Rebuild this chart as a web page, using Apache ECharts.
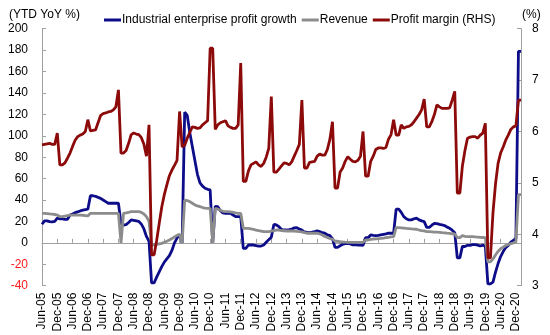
<!DOCTYPE html>
<html><head><meta charset="utf-8">
<script src="https://cdn.jsdelivr.net/npm/echarts@6/dist/echarts.min.js"></script>
<style>html,body{margin:0;padding:0;background:#fff}#c{width:550px;height:335px}</style>
</head><body><div id="c"></div>
<script>
// Monthly categories Jun-05 .. Feb-21
const monthAbbr = ['Jan','Feb','Mar','Apr','May','Jun','Jul','Aug','Sep','Oct','Nov','Dec'];
const categories = [];
for (let y = 2005, m = 5; y < 2021 || (y === 2021 && m <= 1); m++) {
  if (m === 12) { m = 0; y++; if (y === 2021 && m > 1) break; }
  categories.push(monthAbbr[m] + '-' + String(y % 100).padStart(2, '0'));
}

// Industrial enterprise profit growth, YTD YoY %
const profitGrowth = [
  17.4, 20.5, 20.5, 19.8, 19.5, 20, 23,                              // 2005 Jun-Dec
  22.5, 22.5, 22, 22, 26, 27, 28.2, 29, 29.8, 30.5, 31, 31.4,         // 2006
  44, 44, 43.5, 42.5, 41.6, 40, 38.5, 37, 37, 37, 37, 37,             // 2007
  18.3, 16.5, 17, 19, 21.4, 21, 20.5, 20, 17.5, 13, 6, 1.5,           // 2008
  -37.3, -37.3, -32, -27, -22.2, -18, -15, -12, -7, 0, 4.5, 7.8,      // 2009
  0, 122, 119, 103, 90, 77, 64, 56, 53, 51, 50, 49.4,                 // 2010
  0, 34, 33.8, 30, 28, 27.6, 27.6, 27.6, 26, 24.5, 24.5, 24.5,        // 2011
  -5.2, -5.2, -2, -2, -2, -2.5, -3, -3, -2, 0.5, 3, 5.3,              // 2012
  17.2, 16.7, 15.1, 12.5, 12, 12, 12.3, 12.8, 14, 14.2, 13, 12,       // 2013
  10, 9.9, 9.6, 10, 10.5, 11.1, 10.5, 9.5, 9, 7.5, 6.7, 4,            // 2014
  -4.2, -4.2, -2.7, -1.3, -0.8, -0.5, -1, -1.9, -1.7, -2, -2, -2.3,   // 2015
  4.8, 4.8, 7.4, 7, 6.7, 7, 7.5, 8, 8.4, 9, 9, 9,                     // 2016
  31.5, 31.5, 28.5, 24.5, 22.5, 21.4, 21.5, 22.5, 23, 21.5, 20.5, 19.8, // 2017
  14.5, 14.5, 16.5, 18.3, 18, 17.2, 16.7, 16.2, 14.7, 13.6, 11.8, 9.5,  // 2018
  -14, -14, -3.3, -3.4, -2.3, -2.4, -1.7, -1.7, -2.1, -2.9, -2.1, -3.3, // 2019
  -38.3, -38.3, -36.7, -27.4, -19.3, -12.8, -8.1, -4.4, -2.4, 0.7, 2.4, 4.1, // 2020
  178.9, 178.9                                                        // 2021 Jan-Feb
];

// Revenue growth, YTD YoY %
const revenueGrowth = [
  27.6, 27.5, 27.3, 27, 26.8, 26.5, 26,                               // 2005
  24.5, 24.5, 25, 25.5, 26, 26, 26, 26, 26, 25.8, 25.5, 25.1,         // 2006
  27.6, 27.6, 27.6, 27.6, 27.6, 27.6, 27.6, 27.6, 27.6, 27.6, 27.6, 27.6, // 2007
  0, 27.6, 28, 28.5, 29.1, 29.1, 29.1, 29.1, 28.5, 27, 24.5, 20,      // 2008
  -2, -2, -1.5, -1, -0.5, 0.5, 1.5, 2.7, 4, 5.5, 7, 8,                // 2009
  0, 40, 39.5, 38.5, 37, 35.5, 34.5, 33.8, 33, 32.5, 32.3, 32.3,      // 2010
  0, 32.3, 31.5, 30.5, 29.5, 29.1, 29.1, 29, 28.5, 28, 27.6, 27.6,    // 2011
  13.6, 13.6, 13.5, 13, 12.5, 12, 11.5, 11, 10.5, 10.5, 10.5, 11,     // 2012
  11.5, 12, 12, 11.5, 11.3, 11.1, 11.1, 11.1, 11, 10.8, 10.5, 10.3,   // 2013
  9.5, 9, 9, 9, 9, 9, 8.5, 7.4, 6, 5, 4, 3.6,                         // 2014
  1.5, 1.5, 1.1, 0.8, 0.6, 0.5, 0.5, 0.5, 0.5, 0.5, 0.5, 0.5,         // 2015
  2.7, 2.7, 3.2, 3.6, 3.8, 4, 4.2, 4.5, 4.9, 5.2, 5.5, 5.8,           // 2016
  14.2, 14.2, 14, 13.8, 13.5, 13.3, 13, 12.8, 12.7, 12, 11.5, 11.1,   // 2017
  10.5, 10.5, 10.3, 10.1, 10, 9.8, 9.5, 9.3, 9, 8.8, 8.5, 8.3,        // 2018
  4.9, 4.9, 6.7, 6, 5.8, 5.8, 5.8, 5.5, 5.3, 5.1, 5, 4.9,             // 2019
  -17.7, -17.7, -15, -11.3, -8, -5.5, -4, -2.5, -1.5, -0.7, 0, 0.8,   // 2020
  45, 45                                                              // 2021
];

// Profit margin, % (right-hand scale)
const profitMargin = [
  5.74, 5.75, 5.76, 5.77, 5.75, 5.75, 5.97,                           // 2005
  5.35, 5.35, 5.39, 5.48, 5.58, 5.71, 5.83, 5.90, 5.93, 5.95, 6.00, 6.23, // 2006
  6.01, 6.02, 6.03, 6.17, 6.31, 6.35, 6.36, 6.38, 6.39, 6.42, 6.48, 6.81, // 2007
  5.58, 5.58, 5.63, 5.77, 5.94, 5.97, 5.95, 5.94, 5.88, 5.75, 5.52, 6.13, // 2008
  3.60, 3.60, 3.88, 4.21, 4.53, 4.77, 4.96, 5.14, 5.25, 5.34, 5.44, 6.39, // 2009
  5.70, 5.73, 5.87, 5.98, 6.09, 6.08, 6.06, 6.07, 6.13, 6.17, 6.21, 7.62, // 2010
  7.62, 6.04, 6.13, 6.17, 6.19, 6.21, 6.11, 6.08, 6.06, 6.06, 6.13, 7.33, // 2011
  5.03, 5.03, 5.23, 5.35, 5.38, 5.41, 5.35, 5.32, 5.38, 5.50, 5.67, 6.68, // 2012
  5.21, 5.21, 5.27, 5.33, 5.39, 5.38, 5.35, 5.41, 5.52, 5.63, 5.75, 6.61, // 2013
  5.29, 5.29, 5.40, 5.41, 5.42, 5.52, 5.56, 5.54, 5.54, 5.65, 5.85, 6.19, // 2014
  4.90, 4.90, 5.21, 5.29, 5.42, 5.51, 5.46, 5.42, 5.41, 5.44, 5.52, 6.00, // 2015
  5.13, 5.13, 5.42, 5.52, 5.65, 5.68, 5.68, 5.67, 5.69, 5.85, 5.94, 6.23, // 2016
  5.93, 5.93, 6.13, 6.06, 6.09, 6.10, 6.13, 6.19, 6.26, 6.33, 6.42, 6.63, // 2017
  6.09, 6.09, 6.19, 6.33, 6.52, 6.48, 6.45, 6.45, 6.45, 6.46, 6.61, 6.78, // 2018
  4.80, 4.80, 5.33, 5.63, 5.87, 5.89, 5.90, 5.90, 5.87, 5.93, 5.97, 6.16, // 2019
  3.54, 3.54, 4.42, 4.98, 5.38, 5.58, 5.70, 5.83, 5.93, 6.04, 6.09, 6.11, // 2020
  6.61, 6.61                                                          // 2021
];

const seriesNames = ['Industrial enterprise profit growth', 'Revenue', 'Profit margin (RHS)'];
const leftTitle = '(YTD YoY %)';
const rightTitle = '(%)';

const FONT = '"Liberation Sans", Arial, sans-serif';
const C_BLUE = '#0d0d8a', C_GRAY = '#8c8c8c', C_RED = '#8c0a0a', C_AXIS = '#a0a0a0';
const halfYear = (i, v) => v.startsWith('Jun') || v.startsWith('Dec');

const chart = echarts.init(document.getElementById('c'), null, { renderer: 'canvas' });
chart.setOption({
  animation: false,
  backgroundColor: '#fff',
  textStyle: { fontFamily: FONT },
  grid: { left: 42, right: 29, top: 28.7, bottom: 49.3, containLabel: false },
  legend: {
    data: seriesNames, top: 9, left: 99, icon: 'rect', itemWidth: 17, itemHeight: 3,
    itemGap: 5, textStyle: { fontSize: 12, color: '#000', fontFamily: FONT, padding: [0, 0, 0, -4] }
  },
  graphic: [
    { type: 'text', left: 9, top: 9, style: { text: leftTitle, font: '12px ' + FONT, fill: '#000' } },
    { type: 'text', left: 522, top: 9, style: { text: rightTitle, font: '12px ' + FONT, fill: '#000' } }
  ],
  xAxis: [
    {
      type: 'category', data: categories, boundaryGap: false, position: 'bottom',
      axisLine: { show: false, onZero: false }, axisTick: { show: false }, splitLine: { show: false },
      axisLabel: { interval: halfYear, rotate: 90, margin: 7, fontSize: 12, color: '#000', fontFamily: FONT }
    },
    {
      type: 'category', data: categories, boundaryGap: false, position: 'top',
      axisLine: { show: true, onZero: true, onZeroAxisIndex: 0, lineStyle: { color: C_AXIS, width: 1 } },
      axisTick: { show: true, interval: halfYear, inside: false, length: 4, lineStyle: { color: C_AXIS } },
      axisLabel: { show: false }, splitLine: { show: false }
    }
  ],
  yAxis: [
    {
      type: 'value', min: -40, max: 200, interval: 20, position: 'left',
      axisLine: { show: true, lineStyle: { color: C_AXIS } },
      axisTick: { show: true, inside: true, length: 4, lineStyle: { color: C_AXIS } },
      splitLine: { show: false },
      axisLabel: { margin: 14, fontSize: 12, fontFamily: FONT, color: v => (v < 0 ? '#ff1a1a' : '#000') }
    },
    {
      type: 'value', min: 3, max: 8, interval: 1, position: 'right',
      axisLine: { show: true, lineStyle: { color: C_AXIS } },
      axisTick: { show: true, inside: true, length: 4, lineStyle: { color: C_AXIS } },
      splitLine: { show: false },
      axisLabel: { margin: 11, fontSize: 12, fontFamily: FONT, color: '#000' }
    }
  ],
  series: [
    { name: seriesNames[0], type: 'line', data: profitGrowth, yAxisIndex: 0, showSymbol: false,
      lineStyle: { color: C_BLUE, width: 2.8 }, itemStyle: { color: C_BLUE } },
    { name: seriesNames[1], type: 'line', data: revenueGrowth, yAxisIndex: 0, showSymbol: false,
      lineStyle: { color: C_GRAY, width: 2.8 }, itemStyle: { color: C_GRAY } },
    { name: seriesNames[2], type: 'line', data: profitMargin, yAxisIndex: 1, showSymbol: false,
      lineStyle: { color: C_RED, width: 2.8 }, itemStyle: { color: C_RED } }
  ]
});
</script></body></html>
